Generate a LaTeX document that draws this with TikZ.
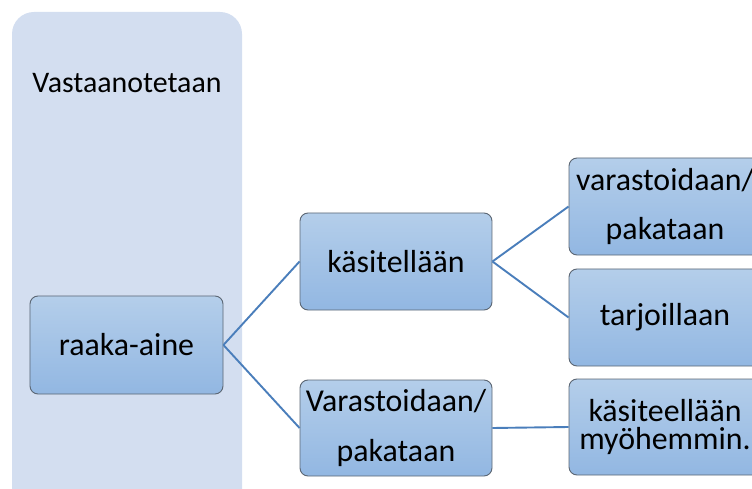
\documentclass[tikz,border=0pt]{standalone}
\usepackage{fontspec}
\setmainfont{Carlito}
\definecolor{bgpanel}{HTML}{D3DEF0}
\definecolor{boxtop}{HTML}{B4CEEA}
\definecolor{boxbot}{HTML}{92B7E2}
\definecolor{boxline}{HTML}{5B6673}
\definecolor{conn}{HTML}{4A7EBB}
\begin{document}
\begin{tikzpicture}[x=1bp,y=-1bp,
  box/.style={draw=boxline, line width=0.9bp, rounded corners=8bp,
    top color=boxtop, bottom color=boxbot, minimum width=192bp, minimum height=97bp,
    inner sep=0pt, align=center, text=black, font=\fontsize{32}{28}\selectfont},
  twoline/.style={font=\fontsize{32}{50}\selectfont},
  conline/.style={draw=conn, line width=1.9bp}]
\useasboundingbox (0,0) rectangle (752,489);
\clip (0,0) rectangle (752,489);
\fill[bgpanel, rounded corners=22bp] (12,12) rectangle (242,520);
\node[font=\fontsize{30}{30}\selectfont, anchor=base] (head) at (127,93) {Vastaanotetaan};
\node[box, minimum width=193bp, minimum height=98bp] (raaka) at (126.5,345) {raaka-aine};
\node[box] (kasit) at (396,261.5) {käsitellään};
\node[box, twoline, minimum height=96bp] (varast) at (396,428) {Varastoidaan/\\pakataan};
\node[box, twoline] (r1) at (665,206.5) {varastoidaan/\\pakataan};
\node[box] (r2) at (665,317.5) {tarjoillaan};
\node[box, minimum height=96bp] (r3) at (665,427) {käsiteellään\\myöhemmin.};
\draw[conline] (raaka.east) -- (kasit.west);
\draw[conline] (raaka.east) -- (varast.west);
\draw[conline] (kasit.east) -- (r1.west);
\draw[conline] (kasit.east) -- (r2.west);
\draw[conline] (varast.east) -- (r3.west);
\end{tikzpicture}
\end{document}
